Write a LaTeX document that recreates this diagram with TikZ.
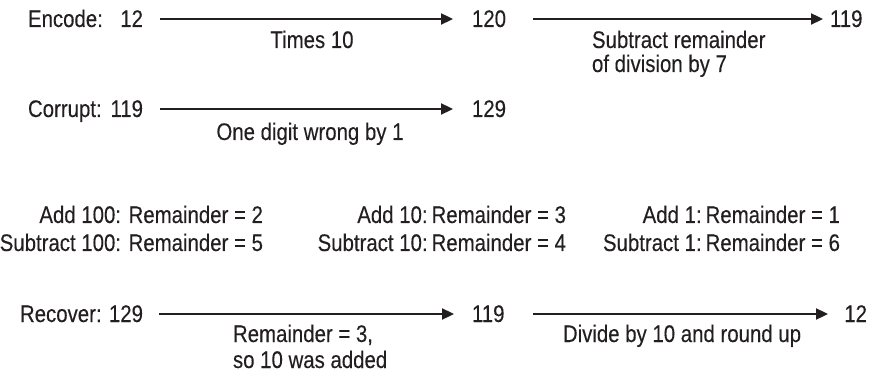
\documentclass[tikz,border=0pt]{standalone}
\usepackage{fontspec}
\setmainfont{Liberation Sans}[FakeStretch=0.85,FakeBold=0.2]
\usetikzlibrary{arrows.meta}
\definecolor{ink}{HTML}{231F20}
\begin{document}
\begin{tikzpicture}[x=1pt,y=-1pt,
  txt/.style={inner sep=0pt,outer sep=0pt,text=ink,font=\fontsize{24}{27}\selectfont},
  num/.style={txt,text height=16pt,text depth=0pt},
  conn/.style={draw=ink,line width=2.3pt,-{Triangle[length=12pt,width=11pt]}}]
\useasboundingbox (0,0) rectangle (873,374);
% Row 1: Encode
\node[txt,anchor=base west] (enc) at (28,27) {Encode:};
\node[num,anchor=base east] (e12) at (143,27) {12};
\node[num,anchor=base west] (e120) at (472,27) {120};
\node[num,anchor=base west] (e119) at (830,27) {119};
\draw[conn,shorten <=17pt,shorten >=19pt] (e12.east) -- (e120.west);
\draw[conn] ([xshift=61pt]e120.west) -- ([xshift=-7pt]e119.west);
\node[txt,anchor=base] (times) at (312,48) {Times 10};
\node[txt,anchor=base west] (sub1) at (592,48) {Subtract remainder};
\node[txt,anchor=base west] (sub2) at (592,72) {of division by 7};
% Row 2: Corrupt
\node[txt,anchor=base west] (cor) at (28,117) {Corrupt:};
\node[num,anchor=base east] (c119) at (143,117) {119};
\node[num,anchor=base west] (c129) at (472,117) {129};
\draw[conn,shorten <=17pt,shorten >=19pt] (c119.east) -- (c129.west);
\node[txt,anchor=base] (wrong) at (310,140) {One digit wrong by 1};
% Remainder table
\node[txt,anchor=base east] (a100) at (263,223) {Add 100: Remainder = 2};
\node[txt,anchor=base east] (s100) at (263,251) {Subtract 100: Remainder = 5};
\node[txt,anchor=base east] (a10) at (566,223) {Add 10:\,Remainder = 3};
\node[txt,anchor=base east] (s10) at (566,251) {Subtract 10:\,Remainder = 4};
\node[txt,anchor=base east] (a1) at (840,223) {Add 1:\,Remainder = 1};
\node[txt,anchor=base east] (s1) at (840,251) {Subtract 1:\,Remainder = 6};
% Row 4: Recover
\node[txt,anchor=base west] (rec) at (20,322) {Recover:};
\node[num,anchor=base east] (r129) at (143,322) {129};
\node[num,anchor=base west] (r119) at (472,322) {119};
\node[num,anchor=base east] (r12) at (867,322) {12};
\draw[conn,shorten <=16pt,shorten >=18pt] (r129.east) -- (r119.west);
\draw[conn] ([xshift=61pt]r119.west) -- ([xshift=-39pt]r12.east);
\node[txt,anchor=base west] (rem1) at (233,342) {Remainder = 3,};
\node[txt,anchor=base west] (rem2) at (233,368) {so 10 was added};
\node[txt,anchor=base] (div) at (682,342) {Divide by 10 and round up};
\end{tikzpicture}
\end{document}
